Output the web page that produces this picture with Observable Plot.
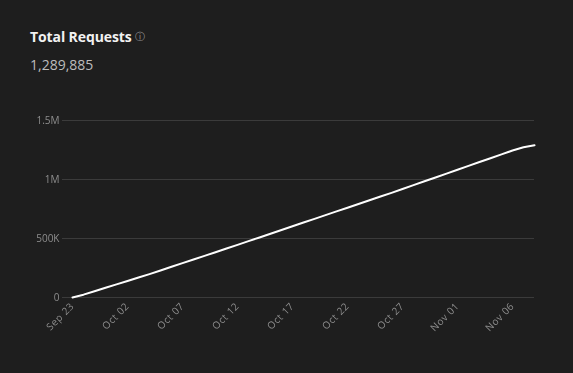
<!DOCTYPE html>
<html>
<head>
<meta charset="utf-8">
<script src="https://cdn.jsdelivr.net/npm/d3@7"></script>
<script src="https://cdn.jsdelivr.net/npm/@observablehq/plot@0.6"></script>
<style>
  html, body { margin: 0; padding: 0; background: #1e1e1e; }
  body { width: 573px; height: 373px; position: relative; overflow: hidden; font-family: "Open Sans", sans-serif; }
  #title { position: absolute; left: 30px; top: 27px; color: #f2f2f2; font-size: 14px; font-weight: 700; letter-spacing: -0.1px; }
  #title .info { color: #9a9a9a; font-weight: 400; font-size: 10px; margin-left: 3px; position: relative; top: -2px; }
  #total { position: absolute; left: 30px; top: 55px; color: #bcbcbc; font-size: 14px; }
  #chart { position: absolute; left: 0; top: 0; opacity: 0.999; will-change: transform; }
  #chart g[aria-label="x-axis tick label"] text { letter-spacing: 0.5px; }
</style>
</head>
<body>
<div id="title">Total Requests<span class="info">ⓘ</span></div>
<div id="total"></div>
<div id="chart"></div>
<script>
const dates = ["Sep 23","Sep 25","Sep 27","Sep 29","Oct 01",
  "Oct 02","Oct 03","Oct 04","Oct 05","Oct 06","Oct 07","Oct 08","Oct 09","Oct 10","Oct 11",
  "Oct 12","Oct 13","Oct 14","Oct 15","Oct 16","Oct 17","Oct 18","Oct 19","Oct 20","Oct 21",
  "Oct 22","Oct 23","Oct 24","Oct 25","Oct 26","Oct 27","Oct 28","Oct 29","Oct 30","Oct 31",
  "Nov 01","Nov 02","Nov 03","Nov 04","Nov 05","Nov 06","Nov 07","Nov 08"];
const requests = [0,24000,53000,82000,111000,140000,169000,198000,229000,260000,
  291000,322000,353000,384000,415000,446000,477500,509000,540500,572000,
  603500,635000,666500,698000,729500,761000,792500,824000,855500,887000,
  919600,952200,984800,1017400,1050000,1082600,1115200,1147800,1180400,1213000,
  1245600,1272600,1289885];
const xTickLabels = ["Sep 23","Oct 02","Oct 07","Oct 12","Oct 17","Oct 22","Oct 27","Nov 01","Nov 06"];
const yTickValues = [0, 500000, 1000000, 1500000];
const yTickLabels = ["0", "500K", "1M", "1.5M"];
const totalLabel = "1,289,885";

document.getElementById("total").textContent = totalLabel;

const data = dates.map((d, i) => ({date: d, value: requests[i]}));
const yLab = new Map(yTickValues.map((v, i) => [v, yTickLabels[i]]));

const chart = Plot.plot({
  width: 573,
  height: 373,
  marginTop: 120,
  marginBottom: 76,
  marginLeft: 62,
  marginRight: 39,
  style: {background: "transparent", fontFamily: "Open Sans, sans-serif", color: "#8e8e8e"},
  x: {type: "point", domain: dates, padding: 0, insetLeft: 10},
  y: {domain: [0, 1500000]},
  marks: [
    Plot.ruleY(yTickValues, {stroke: "#3c3c3c", strokeWidth: 1}),
    Plot.axisY({ticks: yTickValues, tickFormat: d => yLab.get(d), tickSize: 0, tickPadding: 3, fontSize: 10, fill: "#8e8e8e", label: null}),
    Plot.axisX({ticks: xTickLabels, tickSize: 0, tickPadding: 7, tickRotate: -45, fontSize: 10, fill: "#8e8e8e", label: null}),
    Plot.line(data, {x: "date", y: "value", stroke: "#ffffff", strokeWidth: 2, curve: "linear"})
  ]
});
document.getElementById("chart").appendChild(chart);
</script>
</body>
</html>
